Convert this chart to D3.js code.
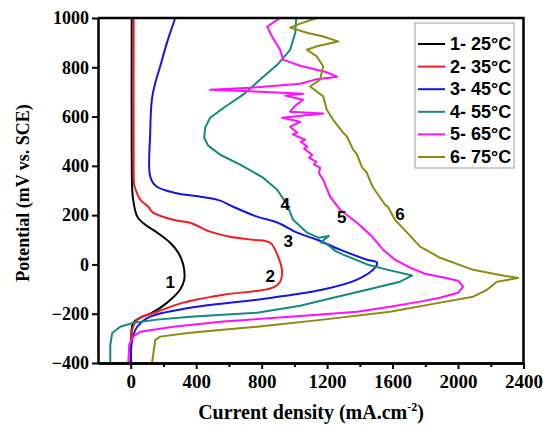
<!DOCTYPE html>
<html>
<head>
<meta charset="utf-8">
<script src="https://cdn.jsdelivr.net/npm/d3@7"></script>
<style>
  body { margin: 0; background: #fff; }
  svg { display: block; }
  .axis-title { font-family: "Liberation Serif", "Times New Roman", serif; font-weight: bold; font-size: 18px; fill: #000; }
  .axis text { font-family: "Liberation Serif", "Times New Roman", serif !important; font-weight: bold; fill: #000; }
  .legend text, .curve-label { font-family: "Liberation Sans", Arial, sans-serif; font-weight: bold; fill: #000; }
</style>
</head>
<body>
<div id="container"></div>
<script>
// series labels and colours
const seriesNames = ["1- 25\u00B0C", "2- 35\u00B0C", "3- 45\u00B0C", "4- 55\u00B0C", "5- 65\u00B0C", "6- 75\u00B0C"];
const seriesColors = ["#000000", "#ee1c24", "#1414e6", "#15897f", "#ff10ff", "#8b8b12"];
// smooth curves vs noisy ones
const seriesSmooth = [true, true, true, false, false, false];

// [current density (mA/cm2), potential (mV vs SCE)]
const curve25 = [[6,1000],[6,466],[9,303],[15,262],[40,194],[89,161],[162,129],[241,88],[290,48],[321,-1],[327,-62],[302,-102],[223,-155],[131,-196],[58,-216],[15,-237],[3,-306],[3,-400]];
const curve35 = [[18,1000],[18,384],[21,323],[38,290],[58,263],[107,234],[137,210],[260,181],[363,169],[485,133],[607,112],[748,100],[852,88],[901,31],[925,-30],[913,-70],[864,-95],[565,-123],[321,-155],[162,-192],[40,-224],[9,-265],[0,-400]];
const curve45 = [[272,1000],[221,899],[180,804],[150,737],[129,668],[119,533],[119,357],[156,317],[272,290],[424,275],[547,259],[626,234],[772,194],[895,170],[1017,129],[1139,100],[1279,60],[1444,19],[1505,7],[1493,-13],[1383,-62],[1176,-102],[772,-143],[363,-176],[119,-212],[40,-253],[9,-306],[0,-400]];
const curve55 = [[1011,1000],[1005,939],[974,871],[895,810],[791,750],[687,689],[577,640],[485,595],[455,555],[449,514],[473,482],[547,445],[669,405],[809,352],[895,303],[956,242],[992,181],[1078,129],[1150,108],[1210,115],[1160,90],[1200,82],[1250,55],[1298,40],[1444,0],[1566,-21],[1719,-45],[1646,-70],[1444,-103],[1237,-135],[1035,-168],[772,-196],[363,-212],[162,-224],[15,-237],[-64,-253],[-113,-278],[-125,-327],[-125,-400]];
const curve65 = [[913,1000],[834,965],[864,924],[913,871],[931,831],[1035,806],[1188,782],[1261,762],[1127,750],[1035,733],[730,717],[485,709],[791,701],[1053,693],[944,685],[1053,668],[1005,644],[974,620],[1176,612],[925,595],[1035,579],[974,559],[1017,535],[990,528],[1066,506],[1040,498],[1078,478],[1060,470],[1108,445],[1090,432],[1133,417],[1120,405],[1157,393],[1150,370],[1176,344],[1218,275],[1279,222],[1383,169],[1475,113],[1542,60],[1615,19],[1707,-13],[1798,-38],[1920,-54],[2000,-66],[2031,-90],[2000,-115],[1890,-135],[1768,-151],[1585,-172],[1383,-192],[974,-212],[565,-232],[260,-253],[58,-273],[15,-293],[-9,-326],[-15,-400]];
const curve75 = [[1137,1000],[1035,977],[974,961],[1076,940],[1176,925],[1267,905],[1137,885],[1076,871],[1137,844],[1176,804],[1157,750],[1096,722],[1176,682],[1198,628],[1237,587],[1298,535],[1320,520],[1359,466],[1380,450],[1414,393],[1440,375],[1481,312],[1554,242],[1570,235],[1615,181],[1689,129],[1768,72],[1890,27],[2092,-22],[2257,-43],[2367,-55],[2238,-70],[2177,-103],[2092,-131],[1890,-155],[1585,-192],[1176,-224],[772,-253],[363,-277],[180,-293],[150,-306],[131,-395],[131,-400]];
const curves = [curve25, curve35, curve45, curve55, curve65, curve75];

// number annotations beside the curves [label, current, potential]
const curveLabels = [["1",241,-75],["2",852,-49],["3",962,92],["4",944,242],["5",1290,190],["6",1646,201]];

const xMajorTicks = [0, 400, 800, 1200, 1600, 2000, 2400];
const xMinorTicks = [200, 600, 1000, 1400, 1800, 2200];
const yTicks = [-400, -200, 0, 200, 400, 600, 800, 1000];

const W = 543, H = 433;
const margin = { left: 98, top: 18, right: 19.5, bottom: 70 };
const width = W - margin.left - margin.right;
const height = H - margin.top - margin.bottom;

const x = d3.scaleLinear().domain([-200, 2400]).range([0, width]);
const y = d3.scaleLinear().domain([-400, 1000]).range([height, 0]);

const svg = d3.select("#container").append("svg")
    .attr("width", W)
    .attr("height", H);

const g = svg.append("g").attr("transform", `translate(${margin.left},${margin.top})`);

// curves
const smoothLine = d3.line().x(d => x(d[0])).y(d => y(d[1])).curve(d3.curveCatmullRom.alpha(0.5));
const roughLine = d3.line().x(d => x(d[0])).y(d => y(d[1]));
g.append("g").selectAll("path")
    .data(curves)
    .join("path")
    .attr("d", (d, i) => seriesSmooth[i] ? smoothLine(d) : roughLine(d))
    .attr("fill", "none")
    .attr("stroke", (d, i) => seriesColors[i])
    .attr("stroke-width", 2)
    .attr("stroke-linejoin", "round");

// curve numbers
g.append("g").selectAll("text")
    .data(curveLabels)
    .join("text")
    .attr("class", "curve-label")
    .attr("x", d => x(d[1]))
    .attr("y", d => y(d[2]))
    .attr("text-anchor", "middle")
    .attr("dominant-baseline", "central")
    .attr("font-size", 17)
    .text(d => d[0]);

// frame top and right
g.append("path")
    .attr("d", `M0,0H${width}V${height}`)
    .attr("fill", "none")
    .attr("stroke", "#000")
    .attr("stroke-width", 2.5);

// x axis
const xAxis = g.append("g")
    .attr("class", "axis")
    .attr("transform", `translate(0,${height})`)
    .call(d3.axisBottom(x).tickValues(xMajorTicks).tickSize(6).tickSizeOuter(0).tickPadding(6).tickFormat(d3.format("d")))
    .attr("font-family", "Liberation Serif")
    .attr("font-size", 19)
    .attr("font-weight", "bold");
g.append("g")
    .attr("transform", `translate(0,${height})`)
    .call(d3.axisBottom(x).tickValues(xMinorTicks).tickSize(4).tickSizeOuter(0).tickFormat(""));

// y axis
const yAxis = g.append("g")
    .attr("class", "axis")
    .call(d3.axisLeft(y).tickValues(yTicks).tickSize(6).tickSizeOuter(0).tickPadding(3).tickFormat(d3.format("d")))
    .attr("font-family", "Liberation Serif")
    .attr("font-size", 18)
    .attr("font-weight", "bold");

g.selectAll(".domain").attr("stroke", "#000").attr("stroke-width", 2.5);
g.selectAll(".tick line").attr("stroke", "#000").attr("stroke-width", 2);

// axis titles
const xt = svg.append("text")
    .attr("class", "axis-title")
    .attr("x", 311)
    .attr("y", 419)
    .style("font-size", "20px")
    .attr("text-anchor", "middle");
xt.append("tspan").text("Current density (mA.cm");
xt.append("tspan").attr("dy", -8).style("font-size", "12px").text("-2");
xt.append("tspan").attr("dy", 8).text(")");

svg.append("text")
    .attr("class", "axis-title")
    .attr("transform", "translate(29,193) rotate(-90)")
    .attr("text-anchor", "middle")
    .text("Potential (mV vs. SCE)");

// legend
const legend = svg.append("g").attr("class", "legend");
legend.append("rect")
    .attr("x", 415).attr("y", 23)
    .attr("width", 99).attr("height", 145)
    .attr("fill", "#fff")
    .attr("stroke", "#999")
    .attr("stroke-width", 1);

const rows = legend.selectAll("g.row")
    .data(seriesNames)
    .join("g")
    .attr("class", "row")
    .attr("transform", (d, i) => `translate(0,${44 + i * 22.6})`);
rows.append("line")
    .attr("x1", 418).attr("x2", 445)
    .attr("stroke", (d, i) => seriesColors[i])
    .attr("stroke-width", 2);
rows.append("text")
    .attr("x", 450)
    .attr("dominant-baseline", "central")
    .attr("font-size", 18)
    .text(d => d);
</script>
</body>
</html>
